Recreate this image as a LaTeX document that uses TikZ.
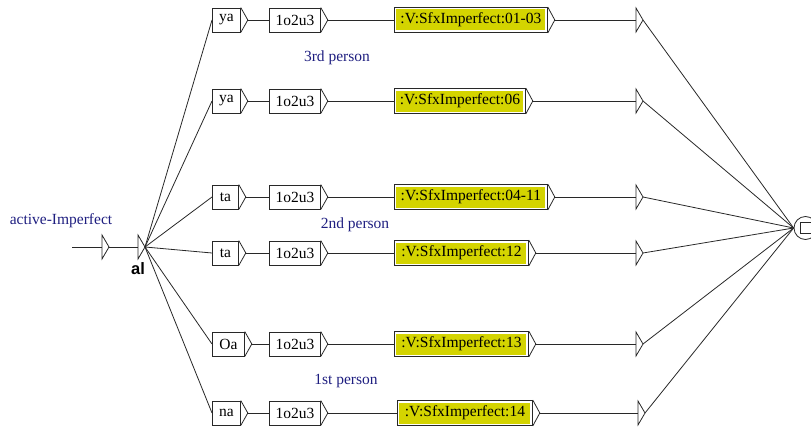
\documentclass[tikz,border=0pt]{standalone}
\usepackage{fontspec}
\setmainfont{Liberation Serif}
\newfontfamily\alfont{Liberation Sans}
\usetikzlibrary{calc}
\definecolor{boxyellow}{RGB}{212,212,0}
\definecolor{labelblue}{RGB}{30,30,128}
\definecolor{linegray}{RGB}{40,40,40}
\newcommand\outtri[1]{\draw[linegray] (#1.north east) -- ($(#1.east)+(7pt,0)$) coordinate (#1-t) -- (#1.south east);}
\newcommand\etri[3]{\draw[linegray] (#2,#3-12) -- (#2+7,#3) -- (#2,#3+12) -- cycle;
  \coordinate (#1-in) at (#2,#3); \coordinate (#1-t) at (#2+7,#3);}
\begin{document}
\begin{tikzpicture}[x=1pt,y=-1pt, line width=0.8pt,
  box/.style={draw=linegray, fill=white, minimum height=24pt, inner sep=0pt, anchor=west,
    font=\fontsize{15.5}{15.5}\selectfont},
  ybox/.style={box, minimum height=25pt,
    path picture={\fill[boxyellow] ([shift={(2pt,-2pt)}]path picture bounding box.north west)
      rectangle ([shift={(-2pt,2pt)}]path picture bounding box.south east);}},
  lab/.style={text=labelblue, font=\fontsize{15.5}{15.5}\selectfont, inner sep=0pt},
  conn/.style={draw=linegray}]
\useasboundingbox (0,0) rectangle (811,428);
\clip (0,0) rectangle (811,428);

% start
\coordinate (start) at (72,247);
\etri{s1}{102}{247}
\etri{s2}{138}{247}
\draw[conn] (start) -- (s1-in);
\draw[conn] (s1-t) -- (s2-in);
\node[lab] (lact) at (61,221) {active-Imperfect};
\node[font=\alfont\bfseries\fontsize{16.5}{16.5}\selectfont, inner sep=0pt] (al) at (138,269) {al};

% column 1
\node[box, minimum width=28pt] (a1) at (212,20) {ya};
\node[box, minimum width=28pt] (a2) at (212,101) {ya};
\node[box, minimum width=26pt] (a3) at (212,197) {ta};
\node[box, minimum width=26pt] (a4) at (212,253) {ta};
\node[box, minimum width=32pt] (a5) at (212,344) {Oa};
\node[box, minimum width=28pt] (a6) at (212,413) {na};

% column 2
\foreach \i/\y in {1/20,2/101,3/197,4/253,5/344,6/413}{
  \node[box, minimum width=51pt] (b\i) at (269,\y) {1o2u3};
}

% column 3
\node[ybox, minimum width=153pt] (c1) at (394,20) {:V:SfxImperfect:01-03};
\node[ybox, minimum width=131pt] (c2) at (394,101) {:V:SfxImperfect:06};
\node[ybox, minimum width=153pt] (c3) at (394,197) {:V:SfxImperfect:04-11};
\node[ybox, minimum width=134pt] (c4) at (394,253) {:V:SfxImperfect:12};
\node[ybox, minimum width=134pt] (c5) at (394,344) {:V:SfxImperfect:13};
\node[ybox, minimum width=135pt] (c6) at (397,413) {:V:SfxImperfect:14};

% output triangles
\foreach \i in {1,...,6}{
  \outtri{a\i}
  \outtri{b\i}
  \outtri{c\i}
}

% final empty boxes
\etri{d1}{636}{20}
\etri{d2}{636}{101}
\etri{d3}{636}{197}
\etri{d4}{636}{253}
\etri{d5}{636}{344}
\etri{d6}{638}{413}

% final state
\node[circle, draw=linegray, minimum size=23pt, inner sep=0pt] (fin) at (805.5,228) {};
\draw[linegray] (800,222.5) rectangle (813,233.5);

% connectors
\foreach \i in {1,...,6}{
  \draw[conn] (s2-t) -- (a\i.west);
  \draw[conn] (a\i-t) -- (b\i.west);
  \draw[conn] (b\i-t) -- (c\i.west);
  \draw[conn] (c\i-t) -- (d\i-in);
  \draw[conn] (d\i-t) -- (fin.west);
}

% labels
\node[lab] (l3) at (337,58) {3rd person};
\node[lab] (l2) at (355,225) {2nd person};
\node[lab] (l1) at (346,381) {1st person};
\end{tikzpicture}
\end{document}
